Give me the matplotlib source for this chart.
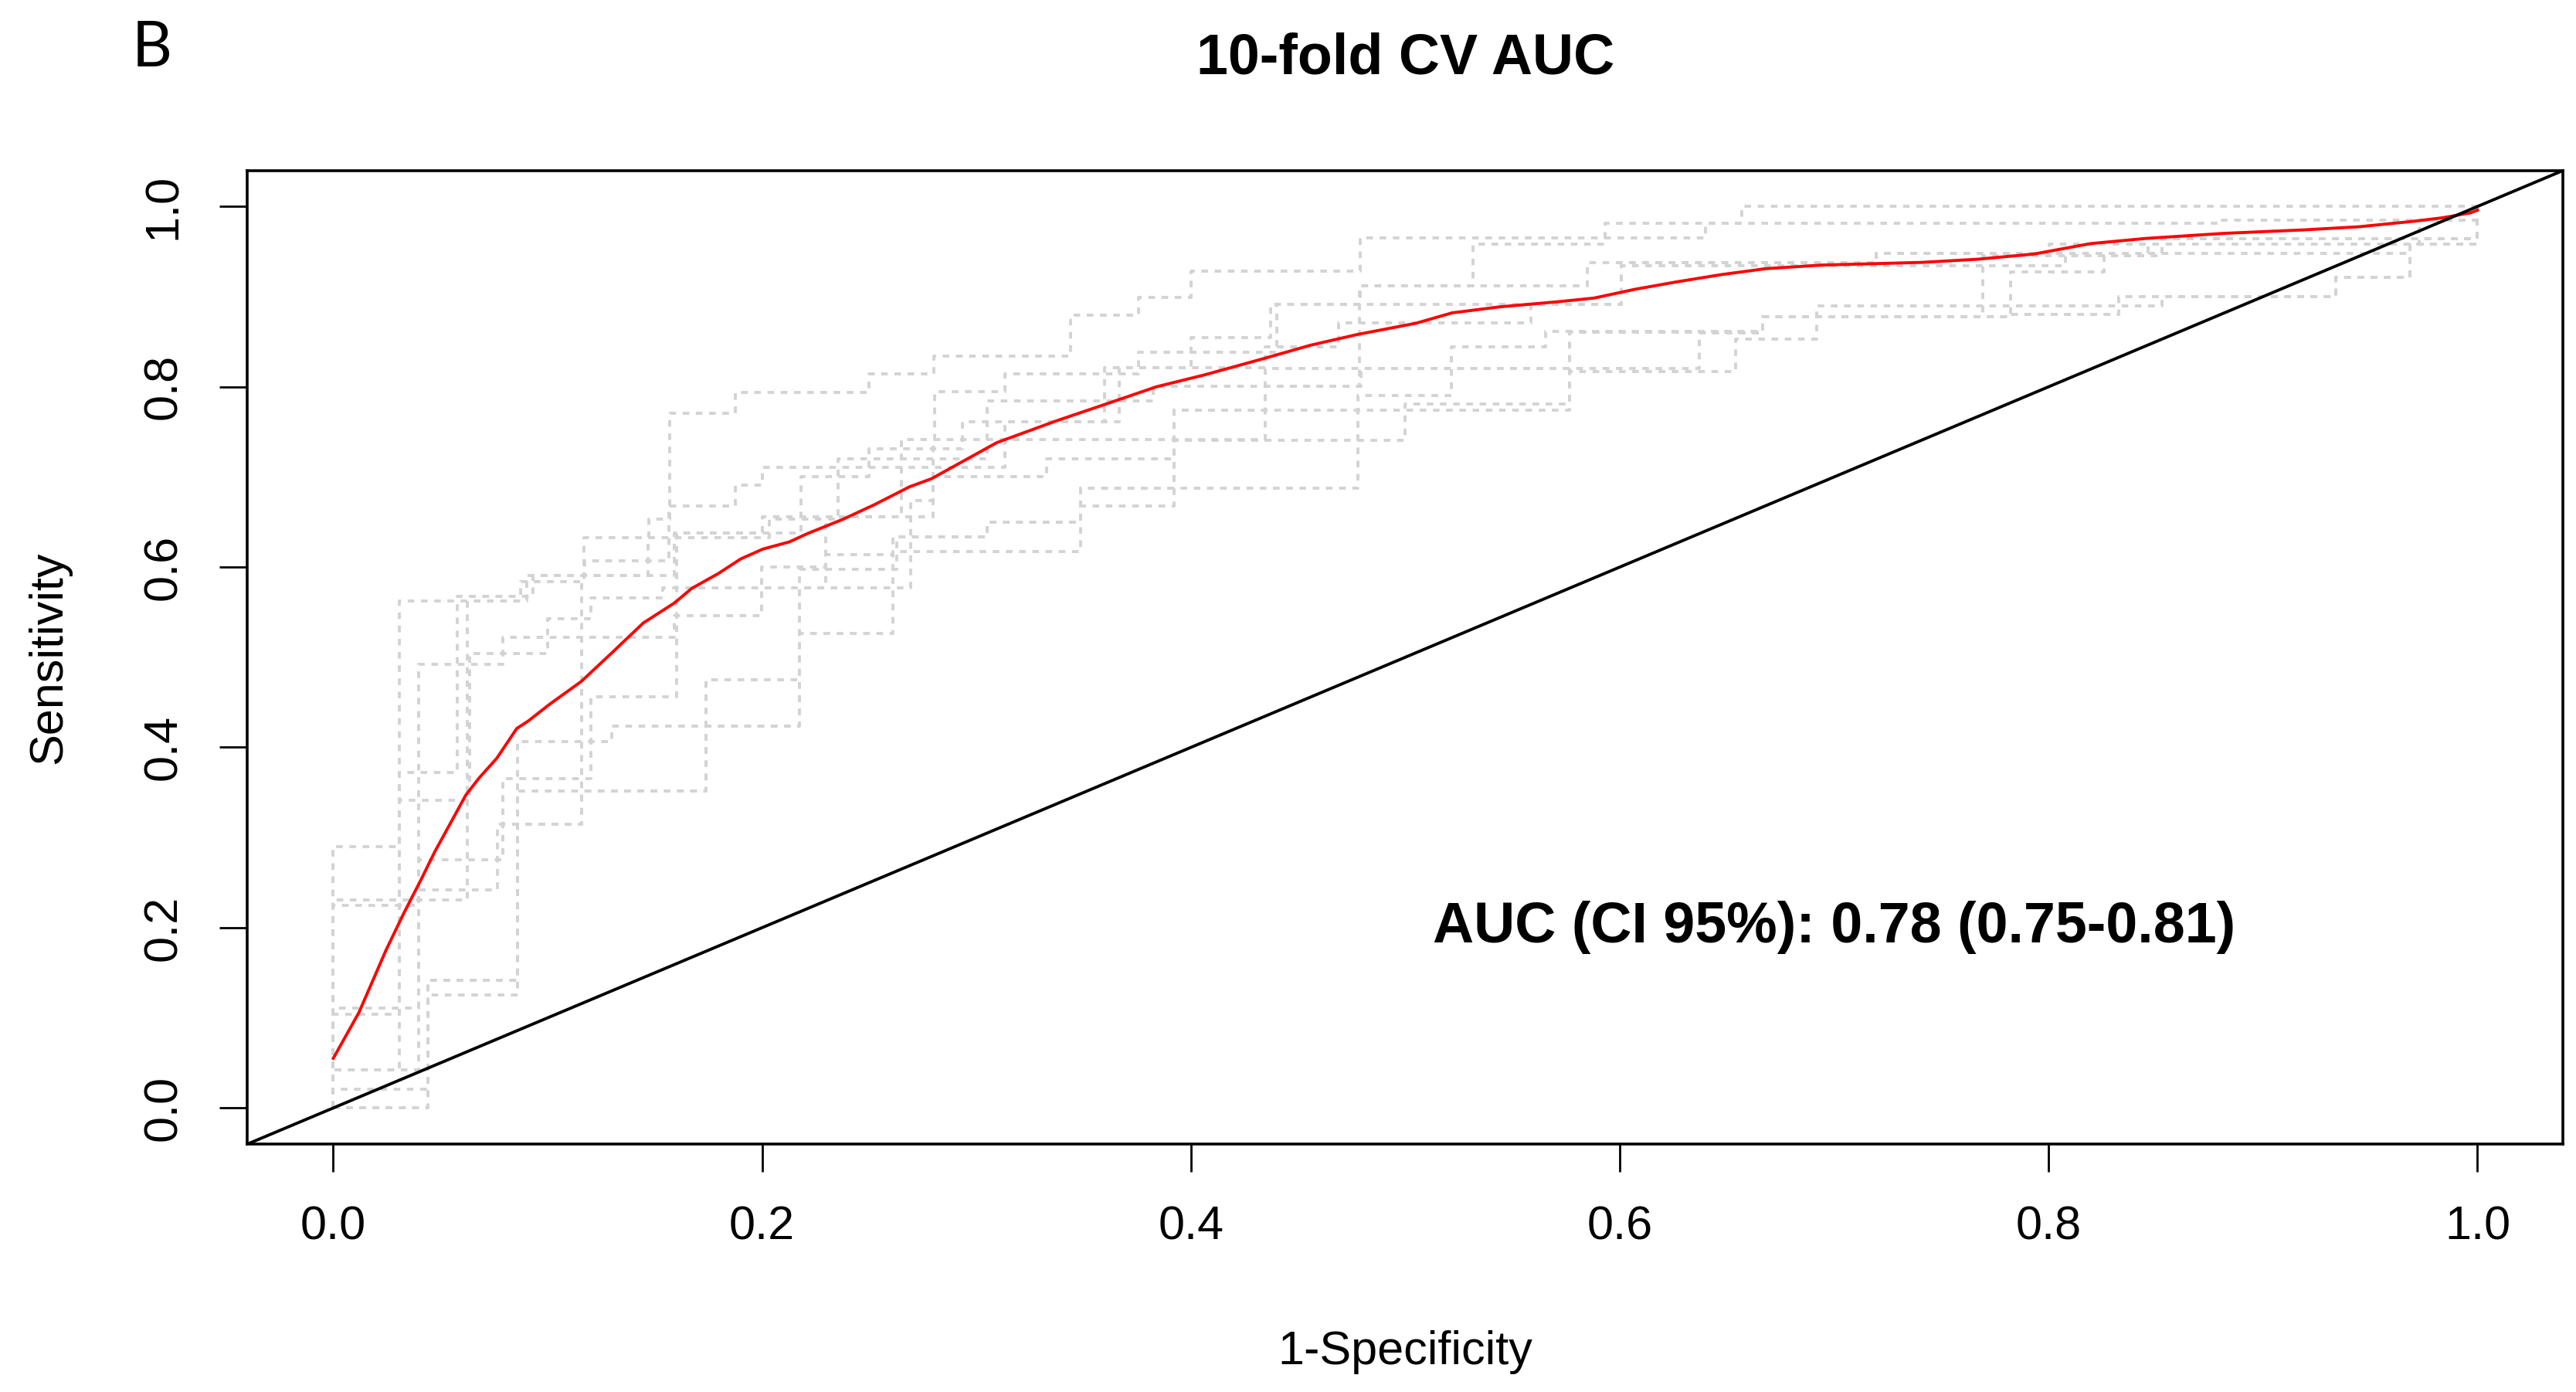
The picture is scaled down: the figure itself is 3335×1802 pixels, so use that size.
import matplotlib
matplotlib.use("Agg")
import matplotlib.pyplot as plt

plt.rcParams['font.family'] = ['Liberation Sans', 'DejaVu Sans']

# mean ROC (red)
mean_fpr = [0, 0.012, 0.0246, 0.0329, 0.0411, 0.0473, 0.0556, 0.0618, 0.068, 0.0763, 0.0856,
            0.0908, 0.101, 0.1156, 0.130, 0.1446, 0.159, 0.1673, 0.1797, 0.190, 0.2004, 0.2128,
            0.221, 0.2377, 0.2522, 0.2687, 0.279, 0.3094, 0.337, 0.3618, 0.3839, 0.406, 0.4335,
            0.4556, 0.4776, 0.505, 0.5218, 0.5438, 0.5714, 0.588, 0.6072, 0.6266, 0.6473, 0.668,
            0.6942, 0.741, 0.767, 0.7933, 0.8195, 0.8455, 0.882, 0.9186, 0.9447, 0.9707, 0.9838,
            0.9969, 1.0]
mean_tpr = [0.055, 0.106, 0.175, 0.216, 0.254, 0.284, 0.320, 0.347, 0.366, 0.388, 0.421,
            0.429, 0.448, 0.473, 0.505, 0.538, 0.560, 0.5765, 0.593, 0.609, 0.620, 0.628,
            0.637, 0.653, 0.669, 0.689, 0.698, 0.738, 0.762, 0.782, 0.800, 0.813, 0.831,
            0.846, 0.858, 0.8705, 0.882, 0.8886, 0.8944, 0.8984, 0.9082, 0.9164, 0.9244, 0.931,
            0.935, 0.938, 0.9415, 0.9473, 0.9588, 0.9646, 0.9702, 0.974, 0.9775, 0.9837, 0.9875,
            0.993, 0.996]

# per-fold ROC steps (top of each riser)
fold1_fpr = [0, 0, 0.031, 0.058, 0.0875, 0.117, 0.147, 0.157, 0.1875, 0.25, 0.28, 0.344, 0.3755,
             0.40, 0.479, 0.64, 0.657, 1.0]
fold1_tpr = [0, 0.29, 0.5626, 0.5675, 0.584, 0.633, 0.6535, 0.771, 0.794, 0.8145, 0.834, 0.879, 0.899,
             0.928, 0.965, 0.9815, 1.0, 1.0]

fold2_fpr = [0, 0, 0.0627, 0.093, 0.1172, 0.1565, 0.1875, 0.2, 0.25, 0.2651, 0.2803, 0.3134, 0.3755,
             0.40, 0.4372, 0.6006, 0.7692, 0.8464, 1.0]
fold2_tpr = [0, 0.231, 0.5675, 0.5906, 0.607, 0.6676, 0.6906, 0.7102, 0.7315, 0.7414, 0.7945, 0.8145, 0.8381,
             0.8545, 0.891, 0.9344, 0.9454, 0.9642, 1.0]

fold3_fpr = [0, 0, 0.031, 0.0636, 0.0999, 0.12, 0.1537, 0.2298, 0.261, 0.3051, 0.3486, 0.478, 0.5214,
             0.5655, 0.6665, 0.7823, 0.8326, 0.934, 0.9685, 1.0]
fold3_tpr = [0, 0.104, 0.3416, 0.504, 0.543, 0.566, 0.577, 0.6135, 0.6332, 0.6495, 0.6873, 0.790, 0.8444,
             0.861, 0.8775, 0.8804, 0.8997, 0.921, 0.958, 1.0]

fold4_fpr = [0, 0, 0.040, 0.0792, 0.12, 0.16, 0.2, 0.2354, 0.3051, 0.3824, 0.4786, 0.5317, 0.593, 0.881, 1.0]
fold4_tpr = [0, 0.111, 0.2755, 0.365, 0.456, 0.638, 0.656, 0.7201, 0.784, 0.801, 0.912, 0.958, 0.9815, 0.985, 1.0]

fold5_fpr = [0, 0, 0.040, 0.0792, 0.1592, 0.1999, 0.2298, 0.2796, 0.3327, 0.392, 0.4345, 0.5765, 0.6665,
             0.7823, 0.8257, 0.8464, 1.0]
fold5_tpr = [0, 0.042, 0.492, 0.5217, 0.5463, 0.6003, 0.6561, 0.7003, 0.7201, 0.7741, 0.8205, 0.8608, 0.8775,
             0.9272, 0.9454, 0.9642, 1.0]

fold6_fpr = [0, 0, 0.044, 0.086, 0.130, 0.2173, 0.2693, 0.2796, 0.4345, 0.5765, 0.6541, 0.692, 0.7692,
             0.8078, 0.853, 1.0]
fold6_tpr = [0, 0.021, 0.1416, 0.406, 0.4236, 0.5768, 0.6741, 0.7414, 0.774, 0.8172, 0.8529, 0.8899, 0.9344,
             0.9454, 0.9642, 1.0]

fold7_fpr = [0, 0.044, 0.086, 0.1737, 0.2173, 0.261, 0.3486, 0.392, 0.50, 0.5765, 0.637, 0.6665, 0.7823,
             0.8326, 0.934, 0.9685, 1.0]
fold7_tpr = [0, 0.125, 0.3517, 0.4754, 0.5266, 0.6168, 0.6676, 0.7405, 0.7805, 0.8205, 0.8596, 0.8775, 0.8804,
             0.8997, 0.921, 0.958, 1.0]

fold8_fpr = [0, 0, 0.031, 0.058, 0.0903, 0.1468, 0.2034, 0.2354, 0.2651, 0.2934, 0.3665, 0.4345, 0.469,
             0.5586, 0.6006, 0.7196, 0.8002, 0.9728, 1.0]
fold8_tpr = [0, 0.042, 0.372, 0.5626, 0.5906, 0.633, 0.6535, 0.656, 0.7315, 0.761, 0.8211, 0.8444, 0.8707,
             0.891, 0.9379, 0.9477, 0.9584, 0.985, 1.0]

fold9_fpr = [0, 0, 0.040, 0.0765, 0.1158, 0.1592, 0.2182, 0.2499, 0.3134, 0.3596, 0.40, 0.44, 0.479,
             0.585, 0.7196, 0.9685, 1.0]
fold9_tpr = [0, 0.225, 0.2416, 0.3144, 0.5906, 0.638, 0.7003, 0.7102, 0.761, 0.8211, 0.8381, 0.891, 0.912,
             0.938, 0.9477, 0.958, 1.0]

fold10_fpr = [0, 0.044, 0.0861, 0.1158, 0.174, 0.2173, 0.2627, 0.3051, 0.3486, 0.392, 0.4345, 0.4793,
              0.5765, 0.6665, 0.7692, 0.853, 0.934, 0.9685, 1.0]
fold10_tpr = [0, 0.1416, 0.3144, 0.3517, 0.4236, 0.5971, 0.6332, 0.6495, 0.6873, 0.7741, 0.8008, 0.8205,
              0.8608, 0.8775, 0.8899, 0.90, 0.921, 0.958, 1.0]

folds = [(fold1_fpr, fold1_tpr), (fold2_fpr, fold2_tpr), (fold3_fpr, fold3_tpr),
         (fold4_fpr, fold4_tpr), (fold5_fpr, fold5_tpr), (fold6_fpr, fold6_tpr),
         (fold7_fpr, fold7_tpr), (fold8_fpr, fold8_tpr), (fold9_fpr, fold9_tpr),
         (fold10_fpr, fold10_tpr)]

ticks = [0.0, 0.2, 0.4, 0.6, 0.8, 1.0]
tick_labels = ["0.0", "0.2", "0.4", "0.6", "0.8", "1.0"]

fig = plt.figure(figsize=(16.675, 9.01), dpi=200)
ax = fig.add_axes([0.09607, 0.17814, 0.89898, 0.69944])

for fpr, tpr in folds:
    ax.plot(fpr, tpr, drawstyle="steps-post", color="#d3d3d3", lw=1.4,
            dashes=(2.2, 2.2), zorder=1)

ax.plot(mean_fpr, mean_tpr, color="red", lw=1.4, zorder=2)
ax.axline((0, 0), (1, 1), color="black", lw=1.4, zorder=3)

ax.set_xlim(-0.04, 1.04)
ax.set_ylim(-0.04, 1.04)
ax.set_xticks(ticks, labels=tick_labels)
ax.set_yticks(ticks, labels=tick_labels)
ax.tick_params(length=13, width=1.0, labelsize=22, pad=15.5)
for lab in ax.get_yticklabels():
    lab.set_rotation(90)
    lab.set_va("center")
for s in ax.spines.values():
    s.set_linewidth(1.3)

ax.text(0.7, 0.184, "AUC (CI 95%): 0.78 (0.75-0.81)", fontsize=26.5, fontweight="bold",
        ha="center", va="baseline")

fig.text(0.5456, 0.947, "10-fold CV AUC", fontsize=26.5, fontweight="bold", ha="center", va="baseline")
fig.text(0.5456, 0.020, "1-Specificity", fontsize=22, ha="center", va="baseline")
fig.text(0.0192, 0.5275, "Sensitivity", fontsize=22, rotation=90, ha="center", va="center")
fig.text(0.0591, 0.9651, "B", fontsize=29, family=["Lato", "DejaVu Sans"], ha="center", va="center")

fig.savefig("out.png", dpi=200)
